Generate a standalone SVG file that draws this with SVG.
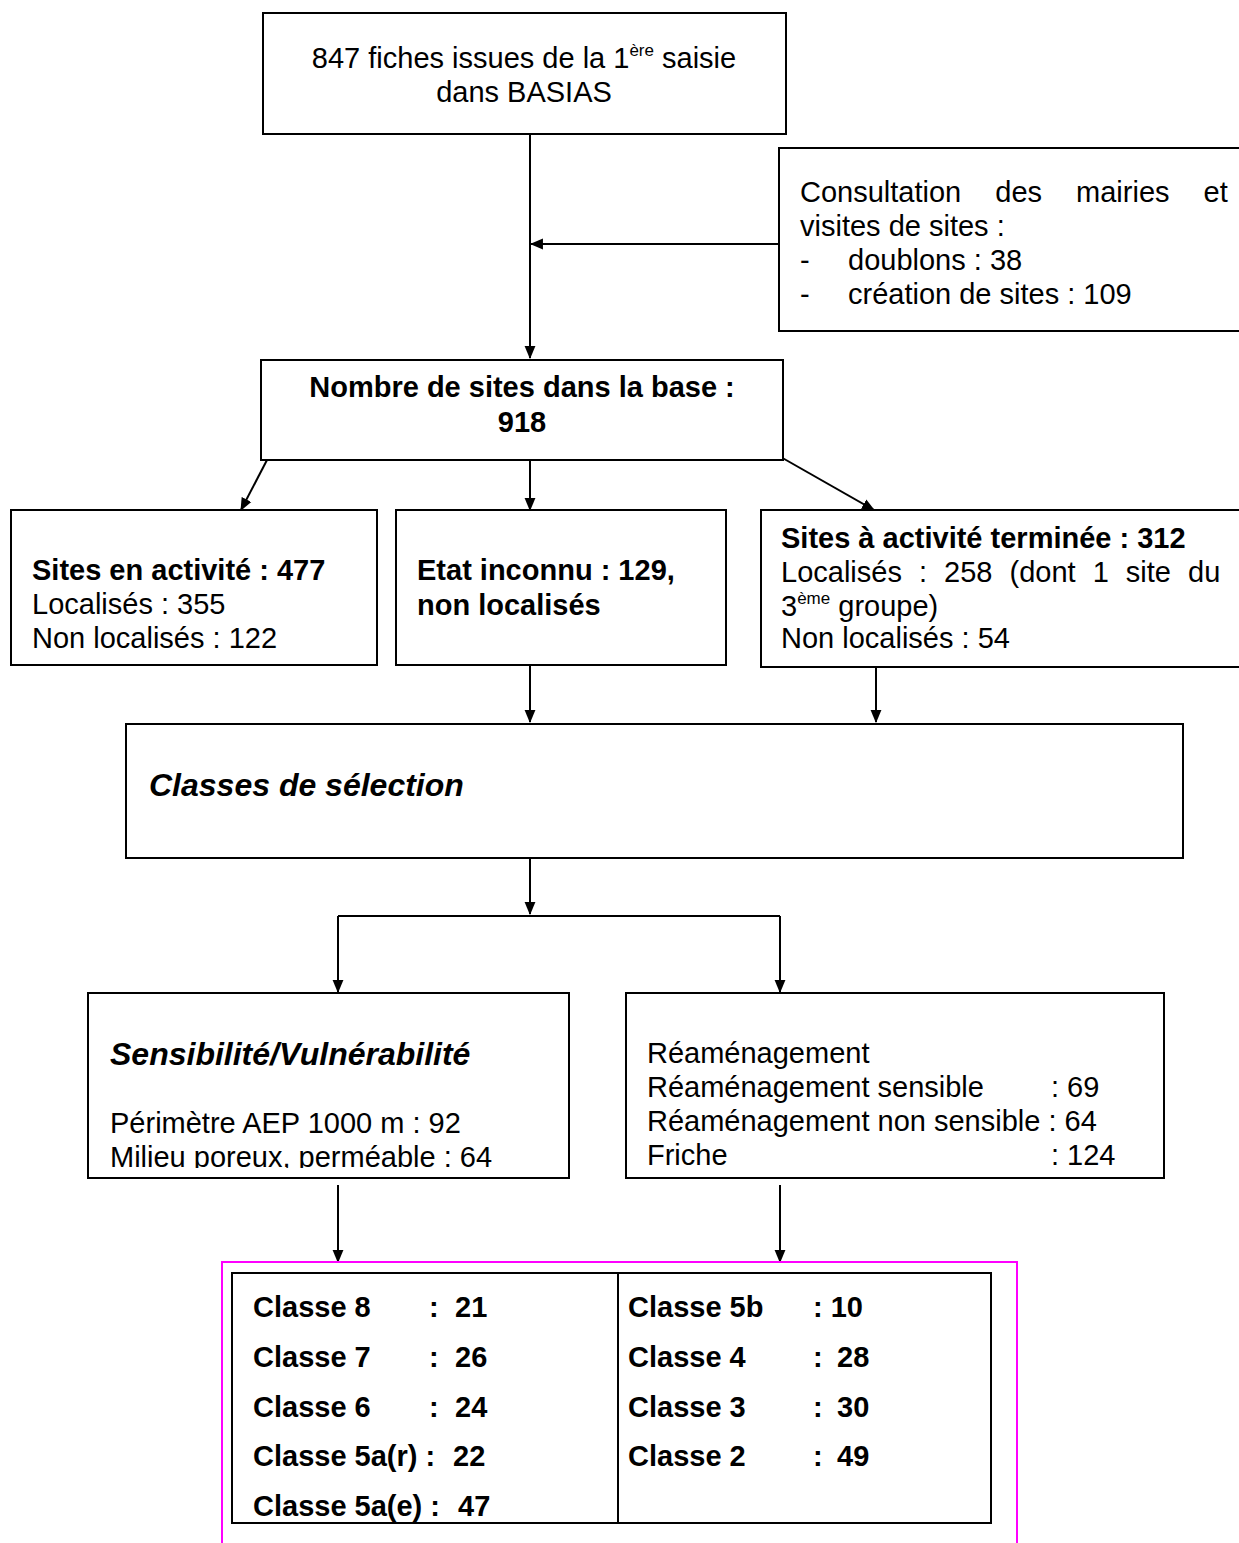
<svg xmlns="http://www.w3.org/2000/svg" width="1239" height="1543" viewBox="0 0 1239 1543">
<defs>
<style>
.b{fill:#fff;stroke:#000;stroke-width:2}
.t{font-family:"Liberation Sans",Arial,sans-serif;font-size:29px;fill:#000}
.bd{font-weight:bold}
.bi{font-weight:bold;font-style:italic;font-size:32px}
.c{stroke:#000;stroke-width:2;fill:none}
.sup{font-size:17px}
</style>
<marker id="ah" viewBox="0 0 12 12" refX="11" refY="6" markerWidth="13" markerHeight="13" markerUnits="userSpaceOnUse" orient="auto">
<path d="M0,1 L12,6 L0,11 Z" fill="#000"/>
</marker>
<clipPath id="clipS"><rect x="88" y="993" width="481" height="175"/></clipPath>
</defs>
<rect width="1239" height="1543" fill="#fff"/>

<g id="connectors">
<line class="c" x1="530" y1="134" x2="530" y2="358" marker-end="url(#ah)"/>
<line class="c" x1="779" y1="244" x2="531" y2="244" marker-end="url(#ah)"/>
<line class="c" x1="267" y1="460" x2="241" y2="510" marker-end="url(#ah)"/>
<line class="c" x1="530" y1="456" x2="530" y2="510" marker-end="url(#ah)"/>
<line class="c" x1="779" y1="456" x2="874" y2="510" marker-end="url(#ah)"/>
<line class="c" x1="530" y1="665" x2="530" y2="722" marker-end="url(#ah)"/>
<line class="c" x1="876" y1="667" x2="876" y2="722" marker-end="url(#ah)"/>
<line class="c" x1="530" y1="858" x2="530" y2="914" marker-end="url(#ah)"/>
<polyline class="c" points="338,916 780,916"/>
<line class="c" x1="338" y1="916" x2="338" y2="992" marker-end="url(#ah)"/>
<line class="c" x1="780" y1="916" x2="780" y2="992" marker-end="url(#ah)"/>
<line class="c" x1="338" y1="1185" x2="338" y2="1262" marker-end="url(#ah)"/>
<line class="c" x1="780" y1="1185" x2="780" y2="1262" marker-end="url(#ah)"/>
</g>

<g id="n-fiches">
<rect class="b" x="263" y="13" width="523" height="121"/>
<text class="t" x="524" y="68" text-anchor="middle">847 fiches issues de la 1<tspan class="sup" dy="-12">ère</tspan><tspan dy="12"> saisie</tspan></text>
<text class="t" x="524" y="102" text-anchor="middle">dans BASIAS</text>
</g>

<g id="n-consultation">
<rect class="b" x="779" y="148" width="470" height="183"/>
<text class="t" x="800" y="202" word-spacing="26">Consultation des mairies et</text>
<text class="t" x="800" y="236">visites de sites :</text>
<text class="t" x="800" y="270">-</text>
<text class="t" x="848" y="270">doublons : 38</text>
<text class="t" x="800" y="304">-</text>
<text class="t" x="848" y="304">création de sites : 109</text>
</g>

<g id="n-nombre">
<rect class="b" x="261" y="360" width="522" height="100"/>
<text class="t bd" x="522" y="397" text-anchor="middle">Nombre de sites dans la base :</text>
<text class="t bd" x="522" y="432" text-anchor="middle">918</text>
</g>

<g id="n-activite">
<rect class="b" x="11" y="510" width="366" height="155"/>
<text class="t bd" x="32" y="580">Sites en activité : 477</text>
<text class="t" x="32" y="614">Localisés : 355</text>
<text class="t" x="32" y="648">Non localisés : 122</text>
</g>

<g id="n-inconnu">
<rect class="b" x="396" y="510" width="330" height="155"/>
<text class="t bd" x="417" y="580">Etat inconnu : 129,</text>
<text class="t bd" x="417" y="615">non localisés</text>
</g>

<g id="n-terminee">
<rect class="b" x="761" y="510" width="486" height="157"/>
<text class="t bd" x="781" y="548">Sites à activité terminée : 312</text>
<text class="t" x="781" y="582" word-spacing="9">Localisés : 258 (dont 1 site du</text>
<text class="t" x="781" y="616">3<tspan class="sup" dy="-12">ème</tspan><tspan dy="12"> groupe)</tspan></text>
<text class="t" x="781" y="648">Non localisés : 54</text>
</g>

<g id="n-classes">
<rect class="b" x="126" y="724" width="1057" height="134"/>
<text class="t bi" x="149" y="796">Classes de sélection</text>
</g>

<g id="n-sensibilite">
<rect class="b" x="88" y="993" width="481" height="185"/>
<g clip-path="url(#clipS)">
<text class="t bi" x="110" y="1065">Sensibilité/Vulnérabilité</text>
<text class="t" x="110" y="1133">Périmètre AEP 1000 m : 92</text>
<text class="t" x="110" y="1167">Milieu poreux, perméable : 64</text>
</g>
</g>

<g id="n-reamenagement">
<rect class="b" x="626" y="993" width="538" height="185"/>
<text class="t" x="647" y="1063">Réaménagement</text>
<text class="t" x="647" y="1097">Réaménagement sensible</text>
<text class="t" x="1051" y="1097">: 69</text>
<text class="t" x="647" y="1131">Réaménagement non sensible : 64</text>
<text class="t" x="647" y="1165">Friche</text>
<text class="t" x="1051" y="1165">: 124</text>
</g>

<g id="n-resultats">
<polyline points="222,1543 222,1262 1017,1262 1017,1543" fill="none" stroke="#f0f" stroke-width="2"/>
<rect class="b" x="232" y="1273" width="759" height="250"/>
<line x1="618" y1="1273" x2="618" y2="1523" stroke="#000" stroke-width="2"/>
<g class="t bd">
<text x="253" y="1317">Classe 8</text><text x="429" y="1317">:</text><text x="455" y="1317">21</text>
<text x="253" y="1367">Classe 7</text><text x="429" y="1367">:</text><text x="455" y="1367">26</text>
<text x="253" y="1417">Classe 6</text><text x="429" y="1417">:</text><text x="455" y="1417">24</text>
<text x="253" y="1466">Classe 5a(r) :</text><text x="453" y="1466">22</text>
<text x="253" y="1516">Classe 5a(e) :</text><text x="458" y="1516">47</text>
<text x="628" y="1317">Classe 5b</text><text x="813" y="1317">: 10</text>
<text x="628" y="1367">Classe 4</text><text x="813" y="1367">:</text><text x="837" y="1367">28</text>
<text x="628" y="1417">Classe 3</text><text x="813" y="1417">:</text><text x="837" y="1417">30</text>
<text x="628" y="1466">Classe 2</text><text x="813" y="1466">:</text><text x="837" y="1466">49</text>
</g>
</g>
</svg>
